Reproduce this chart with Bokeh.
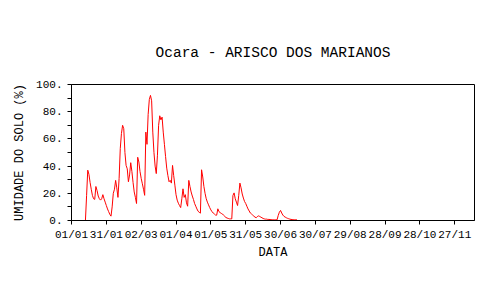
from bokeh.plotting import figure
from bokeh.models import FixedTicker, Range1d
from bokeh.embed import file_html
from bokeh.resources import INLINE

title_text = "Ocara - ARISCO DOS MARIANOS"
x_label = "DATA"
y_label = "UMIDADE DO SOLO (%)"

tick_days = [0, 30, 60, 90, 120, 150, 180, 210, 240, 270, 300, 330]
tick_labels = ["01/01", "31/01", "02/03", "01/04", "01/05", "31/05",
               "30/06", "30/07", "29/08", "28/09", "28/10", "27/11"]
y_ticks = [0, 20, 40, 60, 80, 100]
y_tick_labels = ["0.", "20.", "40.", "60.", "80.", "100."]

first_day = 12
soil_moisture = [
    0, 18.5, 37, 34, 28, 23, 18.5, 16, 15.5, 25,
    22, 18, 16, 15, 16, 19, 16, 13.5, 11, 8.5,
    6.5, 4.5, 3.2, 10, 20, 23, 29.5, 24, 17, 31,
    53, 64, 70, 67.5, 50, 40.5, 38, 28.5, 33.5, 42.5,
    36, 28, 21, 17, 12.5, 46.5, 43, 36, 31, 27,
    23, 18.5, 65, 56, 78, 89, 92, 88, 65, 50,
    40, 34.5, 48, 70, 77, 74, 76, 65, 56, 47,
    38.5, 33, 28.5, 29.5, 27.5, 40.5, 33, 26, 19, 15,
    12.7, 11, 9.5, 16, 23.3, 17, 19, 13, 10.5, 29.5,
    25, 21, 18, 15.5, 12.5, 10.5, 8.5, 6.8, 6, 5.4,
    37.3, 32, 25, 20, 16, 13.5, 11.5, 9.5, 7.8, 6.5,
    5.5, 4.8, 4, 3.9, 8.6, 6.5, 5.8, 5.2, 4.8, 3.8,
    3, 2.2, 1.8, 1.5, 1.2, 1.2, 1.2, 18.4, 20.3, 16,
    13.5, 11, 18.5, 27.5, 24, 19.5, 16.5, 14, 12.5, 10.5,
    8.5, 7, 5.5, 4.8, 4, 3.2, 2.5, 2, 2.9, 3.4,
    3, 2.5, 2, 1.5, 1.2, 1, 1, 0.8, 0.8, 0.7,
    0.7, 0.6, 0.6, 0.5, 0.5, 0.5, 3.7, 6.1, 7.4, 5.5,
    4, 3, 2.5, 2, 1.6, 1.3, 1, 0.8, 0.7, 0.7,
    0.6, 0.6, 0.6,
]
days = [first_day + i for i in range(len(soil_moisture))]

FONT = "Liberation Mono"

p = figure(width=500, height=300, output_backend="svg", toolbar_location=None,
           x_range=Range1d(0, 347), y_range=Range1d(0, 100),
           min_border_left=71, min_border_right=26,
           min_border_top=84, min_border_bottom=80,
           title=title_text)
p.background_fill_color = "white"
p.border_fill_color = "white"
p.outline_line_color = "black"
p.outline_line_width = 1
p.xgrid.visible = False
p.ygrid.visible = False

p.title.align = "center"
p.title.text_font = FONT
p.title.text_font_style = "normal"
p.title.text_font_size = "14.5px"
p.title.text_color = "black"
p.title.standoff = 48

p.line(days, soil_moisture, line_color="#ff0000", line_width=1)

xa = p.xaxis[0]
xa.ticker = FixedTicker(ticks=tick_days)
xa.major_label_overrides = {d: l for d, l in zip(tick_days, tick_labels)}
xa.major_tick_in = 0
xa.major_tick_out = 4
xa.minor_tick_in = 0
xa.minor_tick_out = 0
xa.major_label_standoff = 4
xa.major_label_text_font = FONT
xa.major_label_text_font_size = "11px"
xa.major_label_text_color = "black"
xa.axis_label = x_label
xa.axis_label_text_font = FONT
xa.axis_label_text_font_style = "normal"
xa.axis_label_text_font_size = "12px"
xa.axis_label_text_color = "black"
xa.axis_label_standoff = 2
xa.axis_line_color = "black"
xa.major_tick_line_color = "black"

ya = p.yaxis[0]
ya.ticker = FixedTicker(ticks=y_ticks, minor_ticks=[10, 30, 50, 70, 90])
ya.major_label_overrides = {t: l for t, l in zip(y_ticks, y_tick_labels)}
ya.major_tick_in = 0
ya.major_tick_out = 4
ya.minor_tick_in = 0
ya.minor_tick_out = 4
ya.major_label_standoff = 5
ya.major_label_text_font = FONT
ya.major_label_text_font_size = "11px"
ya.major_label_text_color = "black"
ya.axis_label = y_label
ya.axis_label_text_font = FONT
ya.axis_label_text_font_style = "normal"
ya.axis_label_text_font_size = "12px"
ya.axis_label_text_color = "black"
ya.axis_label_standoff = 6
ya.axis_line_color = "black"
ya.major_tick_line_color = "black"
ya.minor_tick_line_color = "black"

open("out.html", "w").write(file_html(p, INLINE))
